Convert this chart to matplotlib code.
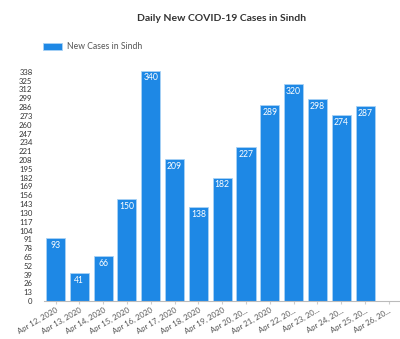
import matplotlib
matplotlib.use("Agg")
import matplotlib.pyplot as plt
import numpy as np

dates = ["Apr 12, 2020", "Apr 13, 2020", "Apr 14, 2020", "Apr 15, 2020",
         "Apr 16, 2020", "Apr 17, 2020", "Apr 18, 2020", "Apr 19, 2020",
         "Apr 20, 20...", "Apr 21, 2020", "Apr 22, 20...", "Apr 23, 20...",
         "Apr 24, 20...", "Apr 25, 20...", "Apr 26, 20..."]
new_cases = [93, 41, 66, 150, 340, 209, 138, 182, 227, 289, 320, 298, 274, 287, None]
y_ticks = list(range(0, 339, 13))

plt.rcParams["font.family"] = ["Lato", "DejaVu Sans"]

fig = plt.figure(figsize=(4.0, 3.39), dpi=100)
ax = fig.add_axes([0.109, 0.112, 0.893, 0.70])

x = np.arange(len(dates))
vals = [v if v is not None else 0 for v in new_cases]
bar_color = "#1E88E5"
bars = ax.bar(x, vals, width=0.8, color=bar_color, edgecolor="#A9D2F5",
              linewidth=0.6, label="New Cases in Sindh")

for xi, v in zip(x, new_cases):
    if v is None:
        continue
    ax.text(xi, v - 4, str(v), ha="center", va="top", color="white",
            fontsize=6.2)

ax.set_xlim(-0.5, len(dates) - 0.5)
ax.set_ylim(0, 338 * 1.0 + 12)
ax.set_yticks(y_ticks)
ax.set_yticklabels([str(t) for t in y_ticks], fontsize=5.6, color="#333333")
ax.set_xticks(x)
ax.set_xticklabels(dates, rotation=30, ha="right", rotation_mode="anchor",
                   fontsize=5.6, color="#555555")
ax.tick_params(axis="y", length=0, pad=8)
ax.tick_params(axis="x", length=2, color="#cccccc", pad=2)

for s in ["top", "right", "left"]:
    ax.spines[s].set_visible(False)
ax.spines["bottom"].set_color("#bbbbbb")
ax.spines["bottom"].set_linewidth(0.8)

fig.text(0.555, 0.945, "Daily New COVID-19 Cases in Sindh", ha="center",
         va="center", fontsize=7.5, fontweight="bold", color="#333333")

leg = ax.legend(loc="upper left", bbox_to_anchor=(-0.01, 1.105), frameon=False,
                fontsize=6.2, handlelength=2.2, handleheight=0.9,
                handletextpad=0.5, borderaxespad=0)
for t in leg.get_texts():
    t.set_color("#555555")

fig.savefig("out.png", dpi=100, facecolor="white")
